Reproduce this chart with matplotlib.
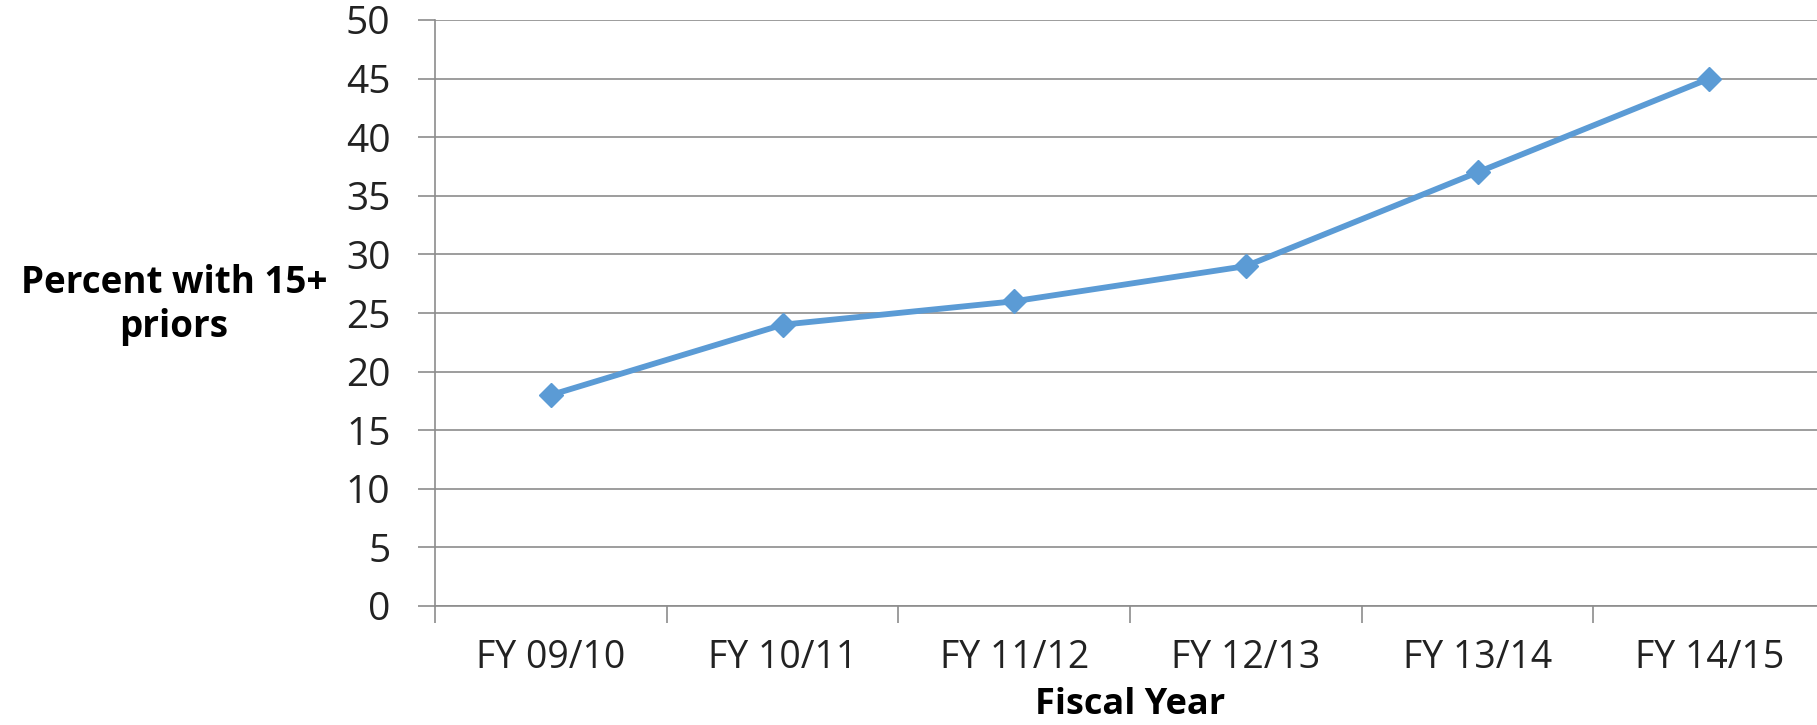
import matplotlib.pyplot as plt

# Dados
fiscal_years = ["FY 09/10", "FY 10/11", "FY 11/12", "FY 12/13", "FY 13/14", "FY 14/15"]
percent_priors = [18, 24, 26, 29, 37, 45]
y_ticks = [0, 5, 10, 15, 20, 25, 30, 35, 40, 45, 50]

plt.rcParams['font.family'] = ['Open Sans', 'DejaVu Sans']

fig = plt.figure(figsize=(18.17, 7.25), dpi=100)
ax = fig.add_axes([435 / 1817, 1 - 606 / 725, 1390 / 1817, 586 / 725])

x = [i + 0.5 for i in range(len(fiscal_years))]
ax.plot(x, percent_priors, color="#5B9BD5", linewidth=4.2, marker="D", markersize=12,
        zorder=3, clip_on=False)

ax.set_xlim(0, len(fiscal_years))
ax.set_ylim(0, 50)
ax.set_yticks(y_ticks)
ax.set_yticklabels([str(v) for v in y_ticks], fontsize=28, color="#222222")

# Ticks nas fronteiras das categorias, rótulos no centro
ax.set_xticks(range(len(fiscal_years) + 1))
ax.set_xticklabels([])
ax.set_xticks(x, minor=True)
ax.set_xticklabels(fiscal_years, minor=True, fontsize=27, color="#222222")
ax.tick_params(axis="x", which="minor", length=0, pad=24)
ax.tick_params(axis="x", which="major", length=12, color="#8c8c8c", width=1.2)
ax.tick_params(axis="y", length=12, color="#8c8c8c", width=1.2, pad=20)

ax.grid(axis="y", color="#8c8c8c", linewidth=1.2)
ax.set_axisbelow(True)
for side in ["top", "right"]:
    ax.spines[side].set_visible(False)
for side in ["left", "bottom"]:
    ax.spines[side].set_color("#8c8c8c")
    ax.spines[side].set_linewidth(1.2)

fig.text(174 / 1817, 1 - 305 / 725, "Percent with 15+\npriors", fontsize=26.5, fontweight="bold",
         ha="center", va="center", linespacing=1.2)
fig.text(1130 / 1817, 1 - 705 / 725, "Fiscal Year", fontsize=26, fontweight="bold",
         ha="center", va="center")

fig.savefig("out.png", dpi=100)
